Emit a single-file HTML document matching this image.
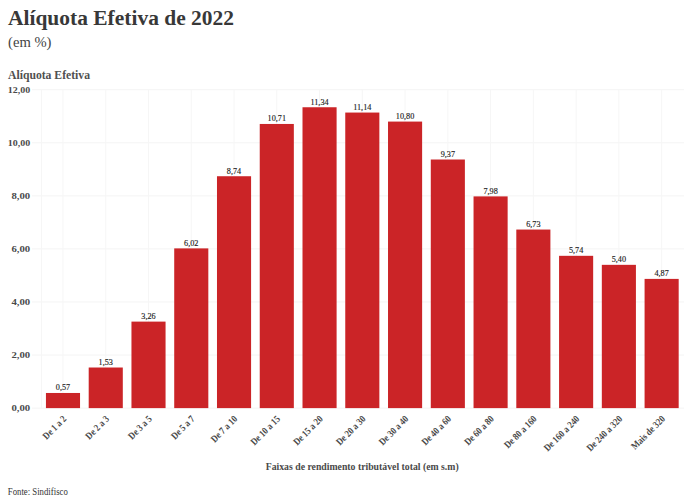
<!DOCTYPE html>
<html><head><meta charset="utf-8"><style>
html,body{margin:0;padding:0;background:#fff;width:696px;height:504px;overflow:hidden}
svg{display:block}
text{font-family:"Liberation Serif",serif;fill:#333}
.title{font-size:20.5px;font-weight:bold;fill:#383838}
.sub{font-size:15.5px;fill:#444}
.ytitle{font-size:12px;font-weight:bold;fill:#505050}
.yl{font-size:9px;font-weight:bold;fill:#4a4a4a}
.vl{font-size:8.2px;font-weight:normal;fill:#1e1e1e;stroke:#1e1e1e;stroke-width:0.15px}
.xl{font-size:9px;font-weight:bold;fill:#474747}
.xtitle{font-size:9.3px;font-weight:bold;fill:#4a4a4a}
.src{font-size:9.4px;fill:#333}
</style></head><body>
<svg width="696" height="504" viewBox="0 0 696 504">
<text x="8" y="24.8" class="title" textLength="226" lengthAdjust="spacingAndGlyphs">Alíquota Efetiva de 2022</text>
<text x="8" y="46.6" class="sub" textLength="43.5" lengthAdjust="spacingAndGlyphs">(em %)</text>
<text x="8" y="78.5" class="ytitle" textLength="82" lengthAdjust="spacingAndGlyphs">Alíquota Efetiva</text>
<line x1="32" y1="408.10" x2="684" y2="408.10" stroke="#f4f4f4" stroke-width="1"/>
<line x1="32" y1="355.04" x2="684" y2="355.04" stroke="#f4f4f4" stroke-width="1"/>
<line x1="32" y1="301.98" x2="684" y2="301.98" stroke="#f4f4f4" stroke-width="1"/>
<line x1="32" y1="248.92" x2="684" y2="248.92" stroke="#f4f4f4" stroke-width="1"/>
<line x1="32" y1="195.86" x2="684" y2="195.86" stroke="#f4f4f4" stroke-width="1"/>
<line x1="32" y1="142.80" x2="684" y2="142.80" stroke="#f4f4f4" stroke-width="1"/>
<line x1="32" y1="89.74" x2="684" y2="89.74" stroke="#f4f4f4" stroke-width="1"/>
<line x1="62.99" y1="89" x2="62.99" y2="408" stroke="#f6f6f6" stroke-width="1"/>
<line x1="105.75" y1="89" x2="105.75" y2="408" stroke="#f6f6f6" stroke-width="1"/>
<line x1="148.51" y1="89" x2="148.51" y2="408" stroke="#f6f6f6" stroke-width="1"/>
<line x1="191.27" y1="89" x2="191.27" y2="408" stroke="#f6f6f6" stroke-width="1"/>
<line x1="234.03" y1="89" x2="234.03" y2="408" stroke="#f6f6f6" stroke-width="1"/>
<line x1="276.79" y1="89" x2="276.79" y2="408" stroke="#f6f6f6" stroke-width="1"/>
<line x1="319.55" y1="89" x2="319.55" y2="408" stroke="#f6f6f6" stroke-width="1"/>
<line x1="362.31" y1="89" x2="362.31" y2="408" stroke="#f6f6f6" stroke-width="1"/>
<line x1="405.07" y1="89" x2="405.07" y2="408" stroke="#f6f6f6" stroke-width="1"/>
<line x1="447.83" y1="89" x2="447.83" y2="408" stroke="#f6f6f6" stroke-width="1"/>
<line x1="490.59" y1="89" x2="490.59" y2="408" stroke="#f6f6f6" stroke-width="1"/>
<line x1="533.35" y1="89" x2="533.35" y2="408" stroke="#f6f6f6" stroke-width="1"/>
<line x1="576.11" y1="89" x2="576.11" y2="408" stroke="#f6f6f6" stroke-width="1"/>
<line x1="618.87" y1="89" x2="618.87" y2="408" stroke="#f6f6f6" stroke-width="1"/>
<line x1="661.63" y1="89" x2="661.63" y2="408" stroke="#f6f6f6" stroke-width="1"/>
<line x1="41.5" y1="89" x2="41.5" y2="408" stroke="#f6f6f6" stroke-width="1"/>
<text x="30.2" y="411.00" class="yl" text-anchor="end" textLength="18.8" lengthAdjust="spacingAndGlyphs">0,00</text>
<text x="30.2" y="357.94" class="yl" text-anchor="end" textLength="18.8" lengthAdjust="spacingAndGlyphs">2,00</text>
<text x="30.2" y="304.88" class="yl" text-anchor="end" textLength="18.8" lengthAdjust="spacingAndGlyphs">4,00</text>
<text x="30.2" y="251.82" class="yl" text-anchor="end" textLength="18.8" lengthAdjust="spacingAndGlyphs">6,00</text>
<text x="30.2" y="198.76" class="yl" text-anchor="end" textLength="18.8" lengthAdjust="spacingAndGlyphs">8,00</text>
<text x="30.2" y="145.70" class="yl" text-anchor="end" textLength="22.4" lengthAdjust="spacingAndGlyphs">10,00</text>
<text x="30.2" y="92.64" class="yl" text-anchor="end" textLength="22.4" lengthAdjust="spacingAndGlyphs">12,00</text>
<rect x="45.94" y="392.98" width="34.1" height="15.12" fill="#cb2427"/>
<text x="62.99" y="390.28" class="vl" text-anchor="middle">0,57</text>
<text transform="translate(66.99,419.50) rotate(-45) scale(0.94,1.1)" class="xl" text-anchor="end">De 1 a 2</text>
<rect x="88.70" y="367.51" width="34.1" height="40.59" fill="#cb2427"/>
<text x="105.75" y="364.81" class="vl" text-anchor="middle">1,53</text>
<text transform="translate(109.75,419.50) rotate(-45) scale(0.94,1.1)" class="xl" text-anchor="end">De 2 a 3</text>
<rect x="131.46" y="321.61" width="34.1" height="86.49" fill="#cb2427"/>
<text x="148.51" y="318.91" class="vl" text-anchor="middle">3,26</text>
<text transform="translate(152.51,419.50) rotate(-45) scale(0.94,1.1)" class="xl" text-anchor="end">De 3 a 5</text>
<rect x="174.22" y="248.39" width="34.1" height="159.71" fill="#cb2427"/>
<text x="191.27" y="245.69" class="vl" text-anchor="middle">6,02</text>
<text transform="translate(195.27,419.50) rotate(-45) scale(0.94,1.1)" class="xl" text-anchor="end">De 5 a 7</text>
<rect x="216.98" y="176.23" width="34.1" height="231.87" fill="#cb2427"/>
<text x="234.03" y="173.53" class="vl" text-anchor="middle">8,74</text>
<text transform="translate(238.03,419.50) rotate(-45) scale(0.94,1.1)" class="xl" text-anchor="end">De 7 a 10</text>
<rect x="259.74" y="123.96" width="34.1" height="284.14" fill="#cb2427"/>
<text x="276.79" y="121.26" class="vl" text-anchor="middle">10,71</text>
<text transform="translate(280.79,419.50) rotate(-45) scale(0.94,1.1)" class="xl" text-anchor="end">De 10 a 15</text>
<rect x="302.50" y="107.25" width="34.1" height="300.85" fill="#cb2427"/>
<text x="319.55" y="104.55" class="vl" text-anchor="middle">11,34</text>
<text transform="translate(323.55,419.50) rotate(-45) scale(0.94,1.1)" class="xl" text-anchor="end">De 15 a 20</text>
<rect x="345.26" y="112.56" width="34.1" height="295.54" fill="#cb2427"/>
<text x="362.31" y="109.86" class="vl" text-anchor="middle">11,14</text>
<text transform="translate(366.31,419.50) rotate(-45) scale(0.94,1.1)" class="xl" text-anchor="end">De 20 a 30</text>
<rect x="388.02" y="121.58" width="34.1" height="286.52" fill="#cb2427"/>
<text x="405.07" y="118.88" class="vl" text-anchor="middle">10,80</text>
<text transform="translate(409.07,419.50) rotate(-45) scale(0.94,1.1)" class="xl" text-anchor="end">De 30 a 40</text>
<rect x="430.78" y="159.51" width="34.1" height="248.59" fill="#cb2427"/>
<text x="447.83" y="156.81" class="vl" text-anchor="middle">9,37</text>
<text transform="translate(451.83,419.50) rotate(-45) scale(0.94,1.1)" class="xl" text-anchor="end">De 40 a 60</text>
<rect x="473.54" y="196.39" width="34.1" height="211.71" fill="#cb2427"/>
<text x="490.59" y="193.69" class="vl" text-anchor="middle">7,98</text>
<text transform="translate(494.59,419.50) rotate(-45) scale(0.94,1.1)" class="xl" text-anchor="end">De 60 a 80</text>
<rect x="516.30" y="229.55" width="34.1" height="178.55" fill="#cb2427"/>
<text x="533.35" y="226.85" class="vl" text-anchor="middle">6,73</text>
<text transform="translate(537.35,419.50) rotate(-45) scale(0.94,1.1)" class="xl" text-anchor="end">De 80 a 160</text>
<rect x="559.06" y="255.82" width="34.1" height="152.28" fill="#cb2427"/>
<text x="576.11" y="253.12" class="vl" text-anchor="middle">5,74</text>
<text transform="translate(580.11,419.50) rotate(-45) scale(0.94,1.1)" class="xl" text-anchor="end">De 160 a 240</text>
<rect x="601.82" y="264.84" width="34.1" height="143.26" fill="#cb2427"/>
<text x="618.87" y="262.14" class="vl" text-anchor="middle">5,40</text>
<text transform="translate(622.87,419.50) rotate(-45) scale(0.94,1.1)" class="xl" text-anchor="end">De 240 a 320</text>
<rect x="644.58" y="278.90" width="34.1" height="129.20" fill="#cb2427"/>
<text x="661.63" y="276.20" class="vl" text-anchor="middle">4,87</text>
<text transform="translate(665.63,419.50) rotate(-45) scale(0.94,1.1)" class="xl" text-anchor="end">Mais de 320</text>
<text x="265.7" y="469.8" class="xtitle" textLength="193" lengthAdjust="spacingAndGlyphs">Faixas de rendimento tributável total (em s.m)</text>
<text x="7.8" y="494.6" class="src" textLength="60" lengthAdjust="spacingAndGlyphs">Fonte: Sindifisco</text>
</svg>
</body></html>
